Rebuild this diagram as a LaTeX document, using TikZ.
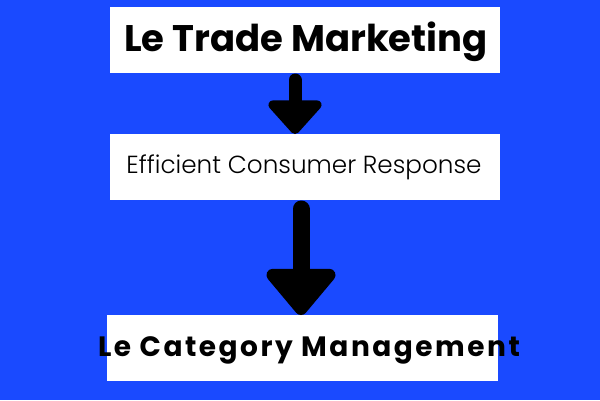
\documentclass[tikz,border=0pt]{standalone}
\usepackage{fontspec}
\setmainfont{Poppins}
\newfontfamily\popbold{Poppins Bold}
\newfontfamily\poplight{Poppins Light}
\newfontfamily\popboldls[LetterSpace=9]{Poppins Bold}
\usetikzlibrary{arrows.meta}
\definecolor{bgblue}{HTML}{1A4AFF}
\begin{document}
\begin{tikzpicture}[x=1pt,y=-1pt,
  box/.style={fill=white, inner sep=0pt, outer sep=0pt},
  arr/.style={line cap=round, draw=black}]
\fill[bgblue] (0,0) rectangle (600,400);
\useasboundingbox (0,0) rectangle (600,400);
\node[box, minimum width=390pt, minimum height=66pt] (b1) at (305,40) {};
\node[box, minimum width=390pt, minimum height=66pt] (b2) at (305,167) {};
\node[box, minimum width=391pt, minimum height=66pt] (b3) at (302.5,348) {};
\node[anchor=base, inner sep=0pt] (t1) at (306,51.5) {\popbold\fontsize{37}{40}\selectfont Le Trade Marketing};
\node[anchor=base, inner sep=0pt] (t2) at (304,173) {\poplight\fontsize{24.7}{28}\selectfont Efficient Consumer Response};
\node[anchor=base, inner sep=0pt] (t3) at (309,356) {\popboldls\fontsize{28}{32}\selectfont Le Category Management};
\coordinate (a1) at (295,0);
\coordinate (a2) at (301,0);
\draw[arr, line width=13pt, -{Triangle[width=62pt,length=36pt,round]}] ([yshift=-7pt]b1.south -| a1) -- (b2.north -| a1);
\draw[arr, line width=17pt, -{Triangle[width=80pt,length=50pt,round]}] ([yshift=-9pt]b2.south -| a2) -- (b3.north -| a2);
\end{tikzpicture}
\end{document}
